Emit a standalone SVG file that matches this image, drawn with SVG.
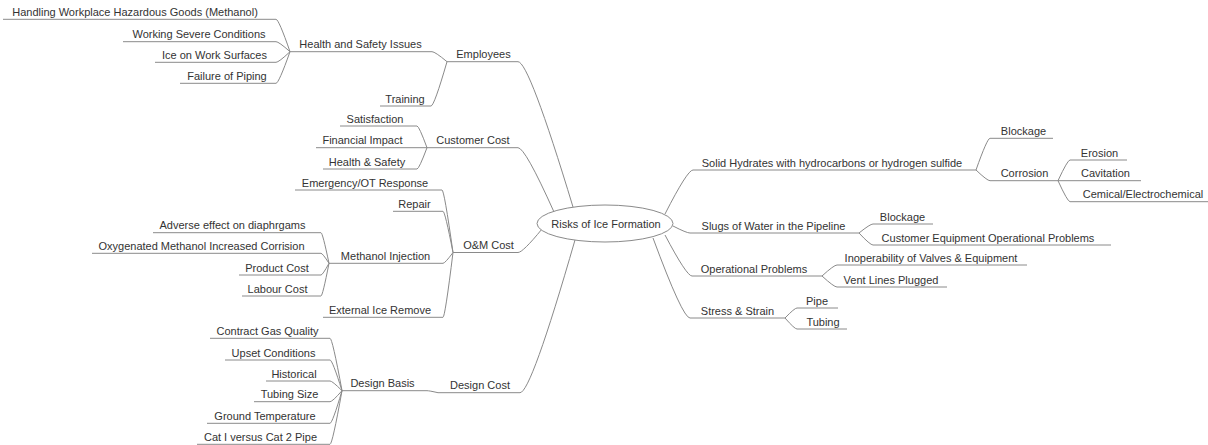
<svg xmlns="http://www.w3.org/2000/svg" width="1208" height="445" viewBox="0 0 1208 445">
<style>
.t{font-family:"Liberation Sans",Arial,sans-serif;font-size:11px;fill:#333;text-anchor:middle}
.u{stroke:#8a8a8a;stroke-width:1;fill:none}
.c{stroke:#8a8a8a;stroke-width:1;fill:none}
</style>
<rect width="1208" height="445" fill="#fff"/>
<g id="connectors" class="c">
<path d="M573 207 Q529 61.7 518 61.7"/>
<path d="M554 212 Q525.2 147.7 518 147.7"/>
<path d="M542 229 Q522.8 252.5 518 252.5"/>
<path d="M575 240 Q531 392.7 520 392.7"/>
<path d="M665 214 Q687.4 170 693 170"/>
<path d="M673 226 Q686.6 233 690 233"/>
<path d="M665 235 Q686.6 276 692 276"/>
<path d="M653 238 Q682.6 318 690 318"/>
<path d="M447 61.7 Q435 51.7 432 51.7"/>
<path d="M447 61.7 Q434.2 106 431 106"/>
<path d="M290 51.7 Q278.8 19.3 276 19.3"/>
<path d="M290 51.7 Q278.8 41.7 276 41.7"/>
<path d="M290 51.7 Q278.8 62.3 276 62.3"/>
<path d="M290 51.7 Q278.8 83.3 276 83.3"/>
<path d="M427 147.7 Q419 126 417 126"/>
<path d="M427 147.7 L417 147.7"/>
<path d="M427 147.7 Q419 169 417 169"/>
<path d="M453 252.5 Q444.2 190 442 190"/>
<path d="M453 252.5 Q445 211.3 443 211.3"/>
<path d="M453 252.5 Q445 263.3 443 263.3"/>
<path d="M453 252.5 Q445 317.3 443 317.3"/>
<path d="M329 263.3 Q322.6 232.7 321 232.7"/>
<path d="M329 263.3 Q322.6 253.3 321 253.3"/>
<path d="M329 263.3 Q322.6 275 321 275"/>
<path d="M329 263.3 Q322.6 296 321 296"/>
<path d="M438 392.7 Q429.2 390.7 427 390.7"/>
<path d="M342 390.7 Q332.4 338.3 330 338.3"/>
<path d="M342 390.7 Q332.4 360 330 360"/>
<path d="M342 390.7 Q332.4 381 330 381"/>
<path d="M342 390.7 Q332.4 401.7 330 401.7"/>
<path d="M342 390.7 Q332.4 423.3 330 423.3"/>
<path d="M342 390.7 Q332.4 444.3 330 444.3"/>
<path d="M976 170 Q987.2 138.3 990 138.3"/>
<path d="M976 170 Q987.2 180.7 990 180.7"/>
<path d="M1058 180.7 Q1067.6 160 1070 160"/>
<path d="M1058 180.7 L1070 180.7"/>
<path d="M1058 180.7 Q1067.6 201.7 1070 201.7"/>
<path d="M859 233 Q870.2 224 873 224"/>
<path d="M859 233 Q870.2 245 873 245"/>
<path d="M822 276 Q834 265 837 265"/>
<path d="M822 276 Q834 287 837 287"/>
<path d="M785 318 Q794.6 308 797 308"/>
<path d="M785 318 Q794.6 329 797 329"/>
</g>
<g id="root">
<ellipse cx="605" cy="223.5" rx="68" ry="18.5" fill="#fff" stroke="#8a8a8a"/>
<text class="t" x="606" y="227.5">Risks of Ice Formation</text>
</g>
<g id="employees"><path class="u" d="M447 61.7H518"/><text class="t" x="483.5" y="58.2">Employees</text></g>
<g id="health-safety-issues"><path class="u" d="M290 51.7H432"/><text class="t" x="360.5" y="48.2">Health and Safety Issues</text></g>
<g id="training"><path class="u" d="M380 106H431"/><text class="t" x="405" y="102.5">Training</text></g>
<g id="handling"><path class="u" d="M3 19.3H276"/><text class="t" x="135" y="15.8">Handling Workplace Hazardous Goods (Methanol)</text></g>
<g id="working"><path class="u" d="M123 41.7H276"/><text class="t" x="199" y="38.2">Working Severe Conditions</text></g>
<g id="ice-surfaces"><path class="u" d="M155 62.3H276"/><text class="t" x="214.5" y="58.8">Ice on Work Surfaces</text></g>
<g id="failure-piping"><path class="u" d="M180 83.3H276"/><text class="t" x="227" y="79.8">Failure of Piping</text></g>
<g id="customer-cost"><path class="u" d="M427 147.7H518"/><text class="t" x="473" y="144.2">Customer Cost</text></g>
<g id="satisfaction"><path class="u" d="M340 126H417"/><text class="t" x="375" y="122.5">Satisfaction</text></g>
<g id="financial-impact"><path class="u" d="M316 147.7H417"/><text class="t" x="362.5" y="144.2">Financial Impact</text></g>
<g id="health-safety"><path class="u" d="M323 169H417"/><text class="t" x="367" y="165.5">Health &amp; Safety</text></g>
<g id="om-cost"><path class="u" d="M453 252.5H518"/><text class="t" x="488.5" y="249">O&amp;M Cost</text></g>
<g id="emergency"><path class="u" d="M295 190H442"/><text class="t" x="365" y="186.5">Emergency/OT Response</text></g>
<g id="repair"><path class="u" d="M393 211.3H443"/><text class="t" x="414.5" y="207.8">Repair</text></g>
<g id="methanol-injection"><path class="u" d="M329 263.3H443"/><text class="t" x="385.5" y="259.8">Methanol Injection</text></g>
<g id="external-ice"><path class="u" d="M323 317.3H443"/><text class="t" x="380" y="313.8">External Ice Remove</text></g>
<g id="adverse"><path class="u" d="M153 232.7H321"/><text class="t" x="232.5" y="229.2">Adverse effect on diaphrgams</text></g>
<g id="oxygenated"><path class="u" d="M92 253.3H321"/><text class="t" x="201.5" y="249.8">Oxygenated Methanol Increased Corrision</text></g>
<g id="product-cost"><path class="u" d="M239 275H321"/><text class="t" x="277" y="271.5">Product Cost</text></g>
<g id="labour-cost"><path class="u" d="M242 296H321"/><text class="t" x="277.5" y="292.5">Labour Cost</text></g>
<g id="design-cost"><path class="u" d="M438 392.7H520"/><text class="t" x="480" y="389.2">Design Cost</text></g>
<g id="design-basis"><path class="u" d="M342 390.7H427"/><text class="t" x="382.5" y="387.2">Design Basis</text></g>
<g id="contract-gas"><path class="u" d="M210 338.3H330"/><text class="t" x="267.5" y="334.8">Contract Gas Quality</text></g>
<g id="upset"><path class="u" d="M225 360H330"/><text class="t" x="273.5" y="356.5">Upset Conditions</text></g>
<g id="historical"><path class="u" d="M266 381H330"/><text class="t" x="294" y="377.5">Historical</text></g>
<g id="tubing-size"><path class="u" d="M254 401.7H330"/><text class="t" x="289.5" y="398.2">Tubing Size</text></g>
<g id="ground-temp"><path class="u" d="M207 423.3H330"/><text class="t" x="265" y="419.8">Ground Temperature</text></g>
<g id="cat-pipe"><path class="u" d="M197 444.3H330"/><text class="t" x="260.5" y="440.8">Cat I versus Cat 2 Pipe</text></g>
<g id="solid-hydrates"><path class="u" d="M693 170H976"/><text class="t" x="832" y="166.5">Solid Hydrates with hydrocarbons or hydrogen sulfide</text></g>
<g id="blockage-1"><path class="u" d="M990 138.3H1053"/><text class="t" x="1023.5" y="134.8">Blockage</text></g>
<g id="corrosion"><path class="u" d="M990 180.7H1058"/><text class="t" x="1024.5" y="177.2">Corrosion</text></g>
<g id="erosion"><path class="u" d="M1070 160H1127"/><text class="t" x="1099.5" y="156.5">Erosion</text></g>
<g id="cavitation"><path class="u" d="M1070 180.7H1141"/><text class="t" x="1105.5" y="177.2">Cavitation</text></g>
<g id="cemical"><path class="u" d="M1070 201.7H1208"/><text class="t" x="1143" y="198.2">Cemical/Electrochemical</text></g>
<g id="slugs"><path class="u" d="M690 233H859"/><text class="t" x="773.5" y="229.5">Slugs of Water in the Pipeline</text></g>
<g id="blockage-2"><path class="u" d="M873 224H933"/><text class="t" x="902.5" y="220.5">Blockage</text></g>
<g id="customer-equipment"><path class="u" d="M873 245H1111"/><text class="t" x="988" y="241.5">Customer Equipment Operational Problems</text></g>
<g id="operational"><path class="u" d="M692 276H822"/><text class="t" x="754" y="272.5">Operational Problems</text></g>
<g id="inoperability"><path class="u" d="M837 265H1027"/><text class="t" x="931" y="261.5">Inoperability of Valves &amp; Equipment</text></g>
<g id="vent-lines"><path class="u" d="M837 287H947"/><text class="t" x="891" y="283.5">Vent Lines Plugged</text></g>
<g id="stress-strain"><path class="u" d="M690 318H785"/><text class="t" x="737.5" y="314.5">Stress &amp; Strain</text></g>
<g id="pipe"><path class="u" d="M797 308H838"/><text class="t" x="817" y="304.5">Pipe</text></g>
<g id="tubing"><path class="u" d="M797 329H847"/><text class="t" x="823" y="325.5">Tubing</text></g>
</svg>
